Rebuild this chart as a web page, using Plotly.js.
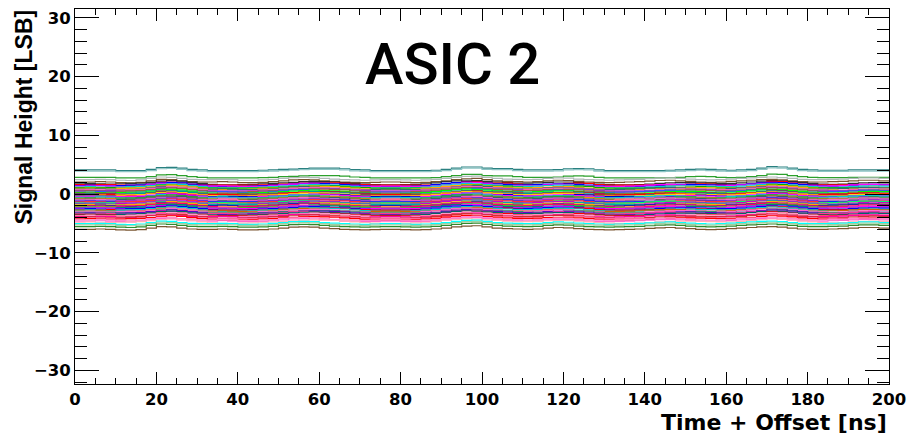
<!DOCTYPE html>
<html>
<head>
<meta charset="utf-8">
<script src="https://cdn.plot.ly/plotly-3.0.1.min.js"></script>
<style>html,body{margin:0;padding:0;background:#fff;}#chart{width:907px;height:438px;}</style>
</head>
<body>
<div id="chart"></div>
<script>
// Sample times [ns]
const timeNs = [0,2.5,5,7.5,10,12.5,15,17.5,20,22.5,25,27.5,30,32.5,35,37.5,40,42.5,45,47.5,
  50,52.5,55,57.5,60,62.5,65,67.5,70,72.5,75,77.5,80,82.5,85,87.5,90,92.5,95,97.5,
  100,102.5,105,107.5,110,112.5,115,117.5,120,122.5,125,127.5,130,132.5,135,137.5,140,142.5,145,147.5,
  150,152.5,155,157.5,160,162.5,165,167.5,170,172.5,175,177.5,180,182.5,185,187.5,190,192.5,195,197.5,200];

// Common-mode ripple shapes [LSB]
const rippleTop = [0,0,0,0,-0.1,-0.1,-0.1,0.1,0.4,0.45,0.3,0.1,0,-0.1,-0.1,-0.1,-0.1,-0.1,-0.05,0,
  0.1,0.15,0.25,0.3,0.3,0.3,0.2,0.05,0,-0.1,-0.1,-0.1,-0.1,-0.1,-0.1,-0.05,0.1,0.3,0.5,0.5,
  0.3,0.25,0.25,0.1,0,0,0,0.05,0.2,0.25,0.2,0,-0.1,-0.1,-0.1,-0.1,-0.1,-0.1,-0.05,0,
  0.1,0.15,0.1,0,-0.05,0,0.1,0.3,0.55,0.5,0.3,0.1,0,-0.05,-0.05,-0.05,0,0,0,0,0];
const rippleMid = [0,0.05,0,-0.05,0,0.05,0.1,0.25,0.45,0.55,0.45,0.25,0.05,-0.1,-0.2,-0.2,-0.15,-0.1,0,0.05,
  0.15,0.25,0.35,0.4,0.35,0.3,0.2,0.05,-0.05,-0.15,-0.2,-0.2,-0.15,-0.1,0,0.15,0.35,0.5,0.6,0.55,
  0.4,0.3,0.2,0.1,0.1,0.15,0.25,0.3,0.3,0.2,0.05,-0.05,-0.15,-0.2,-0.2,-0.15,-0.05,0.05,0.15,0.2,
  0.2,0.15,0.1,0.05,0.05,0.15,0.3,0.45,0.55,0.5,0.35,0.2,0.05,-0.05,-0.1,-0.05,0.05,0.15,0.2,0.15,0.1];
const rippleLow = [0,0,0.05,0,-0.1,-0.15,-0.05,0.2,0.45,0.4,0.2,0.05,0,0,0.05,0,-0.1,-0.1,-0.05,0.05,
  0.2,0.35,0.4,0.35,0.2,0.1,0,-0.05,-0.1,-0.05,0,0,-0.05,-0.1,-0.05,0.05,0.2,0.4,0.55,0.6,
  0.4,0.2,0.1,0.05,0,0.05,0.2,0.3,0.25,0.1,0,-0.05,-0.1,-0.05,0,0.05,0.15,0.25,0.3,0.2,
  0.1,0,-0.05,0,0.1,0.2,0.3,0.4,0.45,0.35,0.2,0.05,0,0,0.05,0.1,0.2,0.3,0.3,0.2,0.1];

// Channel pedestals [LSB], top to bottom
const channelBaselines = [4.1,3.9,2.85,2.45,2.05,1.75,1.6,1.45,1.35,1.2,1.1,0.95,0.85,0.7,0.6,0.5,0.35,0.25,0.1,0.0,
  -0.1,-0.2,-0.35,-0.45,-0.55,-0.7,-0.8,-0.9,-1.0,-1.15,-1.25,-1.35,-1.5,-1.6,-1.7,-1.85,-1.95,-2.05,-2.2,-2.3,
  -2.4,-2.55,-2.65,-2.75,-2.9,-3.0,-3.1,-3.25,-3.35,-3.45,-3.6,-3.7,-3.85,-3.95,-4.1,-4.25,-4.4,-4.6,-4.8,-5.05,
  -5.25,-5.55,-6.0];
const channelRipple = ['top','top','top','low','low','mid','top','mid','low','mid','top','mid','low','mid','top','mid','low','mid','top','mid',
  'low','mid','top','mid','low','mid','top','mid','low','mid','top','mid','low','mid','top','mid','low','mid','top','mid',
  'low','mid','top','mid','low','mid','top','mid','low','mid','top','mid','low','mid','top','mid','low','low','mid','low',
  'low','low','low'];
const channelColors = ['#2a8080','#8cc4c4','#2ca02c','#b0b8b8','#7a5530','#333333','#ff0000','#0000ff','#ff00ff','#00d0d0',
  '#00b000','#ffaa00','#2f6f6f','#ff55bb','#8a2be2','#996633','#3355ff','#00ff00','#cc0033','#009999',
  '#ff0000','#ffcc00','#0000cc','#ff00ff','#00cccc','#339933','#ff7f0e','#336666','#ff66cc','#9933cc',
  '#0033ff','#ff3333','#00ff66','#cc00cc','#00aaaa','#ffaa00','#2222aa','#ff0066','#66cc00','#008080',
  '#ff00ff','#0000ff','#ff0000','#00cccc','#cc6600','#ff66cc','#339966','#6600cc','#ff3399','#006666',
  '#ff0000','#ff99cc','#ff00aa','#cc3333','#ff6699','#ff0000','#ff88cc','#ff66cc','#ffb0b0','#00ffff',
  '#9fd09f','#2e8b2e','#7a5530'];

// Axis tick values
const xTickVals = [0,20,40,60,80,100,120,140,160,180,200];
const yTickVals = [-30,-20,-10,0,10,20,30];

const ripples = {top: rippleTop, mid: rippleMid, low: rippleLow};
const traces = channelBaselines.map((b, i) => ({
  type: 'scatter', mode: 'lines',
  x: timeNs,
  y: ripples[channelRipple[i]].map(r => b + r),
  line: {color: channelColors[i], width: 1.2, shape: 'hv'},
  hoverinfo: 'skip', showlegend: false
}));

const W = 907, H = 438, L = 75, R = 18, T = 9, B = 54;
const pw = W - L - R, ph = H - T - B;
const px = v => (v - L) / pw;
const py = v => (H - B - v) / ph;

const tickFont = {family: 'DejaVu Sans', size: 16.5, color: '#000', weight: 700};
const layout = {
  width: W, height: H,
  margin: {l: L, r: R, t: T, b: B, pad: 0},
  paper_bgcolor: '#fff', plot_bgcolor: '#fff',
  showlegend: false,
  xaxis: {
    range: [0, 200], tickvals: xTickVals, ticktext: xTickVals.map(String),
    ticks: 'inside', ticklen: 12, tickwidth: 1, tickcolor: '#000',
    minor: {dtick: 5, tick0: 0, ticks: 'inside', ticklen: 6, tickwidth: 1, tickcolor: '#000', showgrid: false},
    showline: true, linecolor: '#000', linewidth: 1, mirror: 'ticks',
    showgrid: false, zeroline: false, tickfont: tickFont, fixedrange: true
  },
  yaxis: {
    range: [-32.34, 31.5], tickvals: yTickVals,
    ticks: 'inside', ticklen: 24, tickwidth: 1, tickcolor: '#000',
    minor: {dtick: 2, tick0: 0, ticks: 'inside', ticklen: 12, tickwidth: 1, tickcolor: '#000', showgrid: false},
    showline: true, linecolor: '#000', linewidth: 1, mirror: 'ticks',
    showgrid: false, zeroline: false, tickfont: tickFont, fixedrange: true
  },
  annotations: [
    {text: 'ASIC 2', xref: 'paper', yref: 'paper', x: px(452), y: py(64), xanchor: 'center', yanchor: 'middle',
     showarrow: false, font: {family: 'Roboto', size: 58, color: '#000', weight: 500}},
    {text: 'Signal Height [LSB]', xref: 'paper', yref: 'paper', x: px(23), y: py(8), xanchor: 'center', yanchor: 'top',
     textangle: -90, showarrow: false, font: {family: 'Liberation Sans', size: 23, color: '#000', weight: 700}},
    {text: 'Time + Offset [ns]', xref: 'paper', yref: 'paper', x: px(889), y: py(422), xanchor: 'right', yanchor: 'middle',
     showarrow: false, font: {family: 'DejaVu Sans', size: 22, color: '#000', weight: 700}}
  ]
};

Plotly.newPlot('chart', traces, layout, {displayModeBar: false, staticPlot: true});
</script>
</body>
</html>
